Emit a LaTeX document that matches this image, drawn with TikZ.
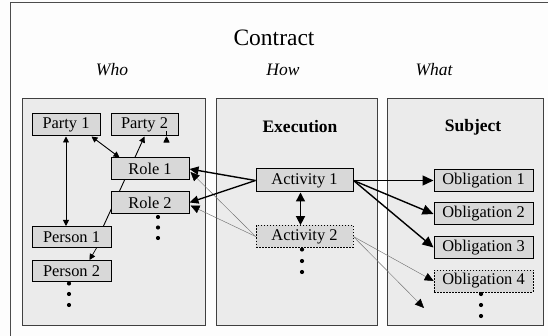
\documentclass[tikz,border=0pt]{standalone}
\usepackage{fontspec}
\setmainfont{Liberation Serif}
\usetikzlibrary{arrows.meta,calc}
\pgfdeclarelayer{back}
\pgfdeclarelayer{mid}
\pgfsetlayers{back,mid,main}
\definecolor{panelfill}{HTML}{EBEBEB}
\definecolor{boxfill}{HTML}{D8D8D8}
\definecolor{pagebg}{HTML}{FDFDFD}
\tikzset{
  panel/.style={draw=black!75, line width=0.9pt, fill=panelfill},
  item/.style={draw=black, line width=1pt, fill=boxfill, inner sep=0pt, minimum height=22pt, font=\fontsize{16.4}{18}\selectfont},
  itemdash/.style={item, dashed, line width=0.7pt, dash pattern=on 1.5pt off 1.5pt},
  conn/.style={line width=0.9pt, {Triangle[length=6pt,width=6pt]}-{Triangle[length=6pt,width=6pt]}},
  oneway/.style={line width=0.9pt, -{Triangle[length=6pt,width=6pt]}},
  heavy/.style={line width=1.4pt, -{Triangle[length=9pt,width=8pt]}},
  big/.style={line width=1.4pt, -{Triangle[length=11pt,width=10pt]}},
  bigboth/.style={line width=1.4pt, {Triangle[length=9pt,width=9pt]}-{Triangle[length=9pt,width=9pt]}},
  faint/.style={line width=0.45pt, draw=black!55, -{Triangle[length=9pt,width=8pt,color=black]}},
  dot/.style={circle, fill=black, inner sep=0pt, minimum size=4.2pt},
  head/.style={font=\fontsize{17.5}{20}\selectfont\bfseries},
  col/.style={font=\fontsize{17.5}{20}\selectfont\itshape}
}
\begin{document}
\begin{tikzpicture}[x=1pt,y=-1pt]
\path[use as bounding box, clip] (0,0) rectangle (548,336);

\begin{pgfonlayer}{back}
\fill[pagebg] (0,0) rectangle (548,336);
\draw[line width=1.2pt, draw=black!70] (10.5,345) -- (10.5,2.5) -- (560,2.5);
\draw[panel] (22,98) rectangle (205,325);
\draw[panel] (216,98) rectangle (377,325);
\draw[panel] (387,98) rectangle (543,325);
\end{pgfonlayer}

\node[font=\fontsize{23.5}{26}\selectfont] (title) at (274,38) {Contract};
\node[col] (who) at (112,70) {Who};
\node[col] (how) at (283,70) {How};
\node[col] (what) at (434,70) {What};

\node[head] (exec) at (300,127) {Execution};
\node[head] (subj) at (473,127) {Subject};

\node[item, minimum width=68pt] (party1) at (66,125) {Party 1};
\node[item, minimum width=67pt] (party2) at (144.5,125) {Party 2};
\node[item, minimum width=78pt] (role1) at (150,169) {Role 1};
\node[item, minimum width=78pt] (role2) at (150,202.5) {Role 2};
\node[item, minimum width=79pt, minimum height=21pt] (person1) at (71.5,237) {Person 1};
\node[item, minimum width=79pt, minimum height=21pt] (person2) at (71.5,271) {Person 2};

\node[item, minimum width=97pt, minimum height=23pt] (act1) at (304.5,180.5) {Activity 1};
\node[itemdash, minimum width=97pt] (act2) at (304.5,236.5) {Activity 2};

\node[item, minimum width=99pt] (obl1) at (483.5,180.5) {Obligation 1};
\node[item, minimum width=99pt] (obl2) at (483.5,214) {Obligation 2};
\node[item, minimum width=99pt] (obl3) at (483.5,247.5) {Obligation 3};
\node[itemdash, minimum width=99pt] (obl4) at (483.5,281) {Obligation 4};

% dots
\node[dot] (r2d1) at (158,217) {};
\node[dot] (r2d2) at (158,227.5) {};
\node[dot] (r2d3) at (158,238) {};
\node[dot] (p2d1) at (69,283.5) {};
\node[dot] (p2d2) at (69,294) {};
\node[dot] (p2d3) at (69,305) {};
\node[dot] (a2d1) at (302,249.5) {};
\node[dot] (a2d2) at (302,261) {};
\node[dot] (a2d3) at (302,272) {};
\node[dot] (o4d1) at (481,294) {};
\node[dot] (o4d2) at (481,305) {};
\node[dot] (o4d3) at (481,316) {};

\coordinate (future) at (424,308);

% hidden line behind roles
\begin{pgfonlayer}{mid}
\draw[oneway] ($(person1.north east)+(-8,0)$) -- (party2.south);
\end{pgfonlayer}

% who connectors
\draw[conn] (party1.south) -- (party1.south |- person1.north);
\draw[conn] ($(party1.south east)+(-9,0)$) -- ($(role1.north west)+(9,0)$);
\draw[oneway] ($(party2.south east)+(-12,0)$ |- role1.north) -- ($(party2.south east)+(-12,0)$);
\draw[oneway] ($(party2.south east)+(-12,0)$ |- role1.south) -- ($(party2.south east)+(-12,0)$ |- role2.north);
\draw[oneway, line width=0.7pt] ($(person1.south)+(25,0)$) -- ($(person2.north)+(18,0)$);

% activity to roles
\draw[faint] (act2.west) -- ($(role1.east)+(1,3)$);
\draw[faint] (act2.west) -- ($(role2.east)+(1,3)$);
\draw[heavy] (act1.west) -- (role1.east);
\draw[heavy] (act1.west) -- (role2.east);

% activity to activity
\draw[bigboth] ($(act1.south)+(-4,0)$) -- ($(act2.north)+(-4,0)$);

% activity to obligations
\draw[big] (act1.east) -- (obl1.west);
\draw[big] (act1.east) -- (obl2.west);
\draw[big] (act1.east) -- (obl3.west);
\draw[faint] (act2.east) -- (obl4.west);
\draw[faint] (act2.east) -- (future);
\end{tikzpicture}
\end{document}
